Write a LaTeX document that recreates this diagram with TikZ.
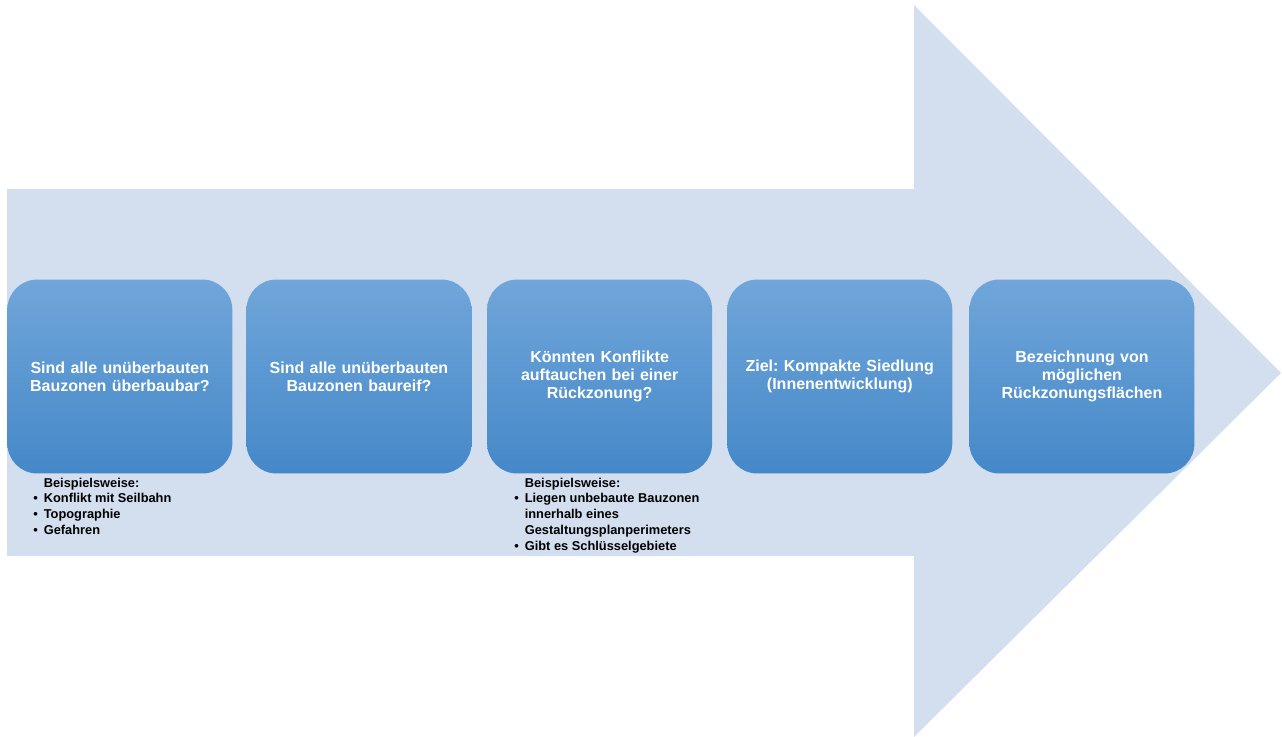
\documentclass[tikz,border=0pt]{standalone}
\usepackage{fontspec}
\setmainfont{Liberation Sans}
\usetikzlibrary{positioning}
\definecolor{arrowfill}{HTML}{D3DEEF}
\definecolor{boxtop}{HTML}{70A6DA}
\definecolor{boxbottom}{HTML}{4588C8}
\frenchspacing

\begin{document}
\begin{tikzpicture}[x=0.02cm,y=-0.02cm,
	stepbox/.style={rounded corners=0.6cm,top color=boxtop,bottom color=boxbottom,minimum width=4.5cm,minimum height=3.88cm,text width=4.4cm,align=center,text=white,inner sep=0pt,font=\fontsize{9.1}{10.2}\selectfont\bfseries},
	notes/.style={anchor=base west,inner sep=0pt,font=\fontsize{7.3}{9.07}\selectfont\bfseries}]
	\useasboundingbox (0,0) rectangle (1282,737);
	% big arrow in the background
	\fill[arrowfill] (7,189) -- (914,189) -- (914,5) -- (1281,373) -- (914,737) -- (914,556) -- (7,556) -- cycle;
	% steps
	\node[stepbox,anchor=west] (q1) at (7,376.5) {Sind alle unüberbauten\\Bauzonen überbaubar?};
	\node[stepbox,right=0.27cm of q1] (q2) {Sind alle unüberbauten\\Bauzonen baureif?};
	\node[stepbox,right=0.3cm of q2] (q3) {Könnten Konflikte\\auftauchen bei einer\\Rückzonung?};
	\node[stepbox,right=0.29cm of q3] (goal) {Ziel: Kompakte Siedlung\\(Innenentwicklung)};
	\node[stepbox,right=0.33cm of goal] (areas) {Bezeichnung von\\möglichen\\Rückzonungsflächen};
	% examples
	\node[notes] (ex1) at (33,487) {\begin{tabular}[t]{@{}l@{\hspace{0.12cm}}l@{}}
		& Beispielsweise:\\
		\textbullet & Konflikt mit Seilbahn\\
		\textbullet & Topographie\\
		\textbullet & Gefahren
	\end{tabular}};
	\node[notes] (ex3) at (514,487) {\begin{tabular}[t]{@{}l@{\hspace{0.12cm}}l@{}}
		& Beispielsweise:\\
		\textbullet & Liegen unbebaute Bauzonen\\
		& innerhalb eines\\
		& Gestaltungsplanperimeters\\
		\textbullet & Gibt es Schlüsselgebiete
	\end{tabular}};
\end{tikzpicture}
\end{document}
